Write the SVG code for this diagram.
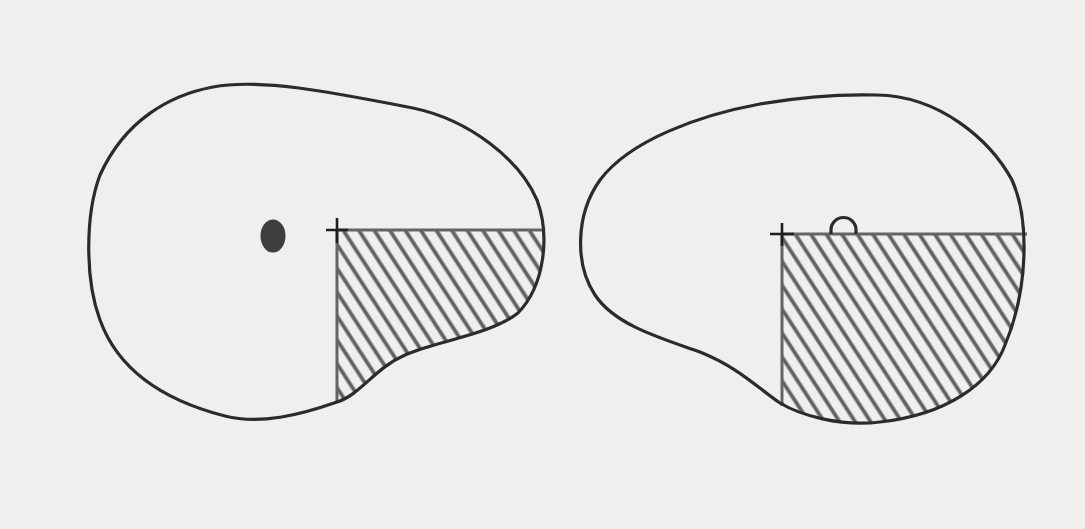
<svg xmlns="http://www.w3.org/2000/svg" width="1085" height="529" viewBox="0 0 1085 529">
  <style>
    .outline { fill: none; stroke: #2b2b2b; stroke-width: 3.2; stroke-linejoin: round; }
    .edge { fill: none; stroke: #646464; stroke-width: 3; }
    .cross { fill: none; stroke: #1e1e1e; stroke-width: 2.6; }
    .hatch { stroke: #626262; stroke-width: 3.8; }
  </style>
  <defs>
    <pattern id="hatch" patternUnits="userSpaceOnUse" width="13" height="13" patternTransform="rotate(-33)">
      <line class="hatch" x1="6.5" y1="-2" x2="6.5" y2="15"/>
    </pattern>
    <clipPath id="clipL">
      <path d="M 213,87 C 260,78 330,92 413,108 C 470,120 520,160 537,200 C 550,235 545,285 518,313 C 490,335 440,340 405,355 C 375,368 360,395 337,402 C 300,415 260,425 225,416 C 170,402 120,375 100,320 C 85,280 85,215 100,175 C 125,120 170,95 213,87 Z"/>
    </clipPath>
    <clipPath id="clipR">
      <path d="M 877,95 C 940,96 990,140 1012,180 C 1030,220 1028,290 1005,345 C 990,385 945,415 880,422 C 840,427 800,415 780,403 C 760,390 740,368 700,352 C 660,338 615,325 595,295 C 575,265 575,215 600,180 C 630,140 700,115 760,104 C 800,97 840,94 877,95 Z"/>
    </clipPath>
  </defs>
  <rect width="1085" height="529" fill="#efefee"/>

  <g id="left-section">
    <rect x="337" y="230" width="220" height="200" fill="url(#hatch)" clip-path="url(#clipL)"/>
    <line class="edge" x1="337" y1="230" x2="545" y2="230"/>
    <line class="edge" x1="337" y1="230" x2="337" y2="403"/>
    <path class="outline" d="M 213,87 C 260,78 330,92 413,108 C 470,120 520,160 537,200 C 550,235 545,285 518,313 C 490,335 440,340 405,355 C 375,368 360,395 337,402 C 300,415 260,425 225,416 C 170,402 120,375 100,320 C 85,280 85,215 100,175 C 125,120 170,95 213,87 Z"/>
    <ellipse cx="273" cy="236" rx="12.5" ry="16.5" fill="#3e3e3e"/>
    <path class="cross" d="M 326,230 L 348,230 M 337,218 L 337,243"/>
  </g>

  <g id="right-section">
    <rect x="782" y="234" width="260" height="200" fill="url(#hatch)" clip-path="url(#clipR)"/>
    <line class="edge" x1="782" y1="234" x2="1027" y2="234"/>
    <line class="edge" x1="782" y1="234" x2="782" y2="406"/>
    <path class="outline" d="M 877,95 C 940,96 990,140 1012,180 C 1030,220 1028,290 1005,345 C 990,385 945,415 880,422 C 840,427 800,415 780,403 C 760,390 740,368 700,352 C 660,338 615,325 595,295 C 575,265 575,215 600,180 C 630,140 700,115 760,104 C 800,97 840,94 877,95 Z"/>
    <path class="outline" stroke-width="4.2" d="M 831,234 L 831,230 A 12.5,12.5 0 0 1 856,230 L 856,234"/>
    <path class="cross" d="M 770,234 L 794,234 M 782,223 L 782,246"/>
  </g>
</svg>
